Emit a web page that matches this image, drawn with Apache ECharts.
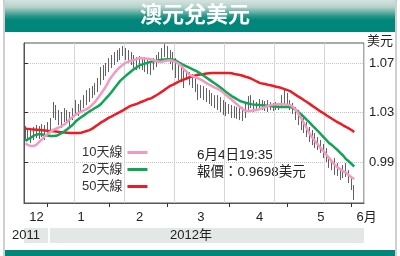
<!DOCTYPE html>
<html><head><meta charset="utf-8">
<script src="https://cdn.jsdelivr.net/npm/echarts@6/dist/echarts.min.js"></script>
<style>html,body{margin:0;padding:0;background:#fff}#c{width:400px;height:256px}</style>
</head><body><div id="c"></div>
<script>
const FONT = "'Liberation Sans','Noto Sans CJK TC',sans-serif";
const titleText = '澳元兌美元';
const unitText = '美元';
const seriesNames = ['10天線', '20天線', '50天線'];
const quoteTime = '6月4日19:35';
const quotePrice = 0.9698;
const yearLabels = ['2011', '2012年'];
const monthLabels = ['12', '1', '2', '3', '4', '5', '6月'];
const yTicks = [0.99, 1.03, 1.07];

// trading days: December 2011 days, then weekdays 2012-01-02 .. 2012-06-04
const decDays = ['2011-12-20','2011-12-21','2011-12-22','2011-12-23','2011-12-27','2011-12-28','2011-12-29','2011-12-30'];

const opens = [
1.0150,1.0134,1.0123,1.0107,1.0131,1.0147,1.0139,1.0155,1.0139,1.0167,
1.0256,1.0321,1.0300,1.0260,1.0240,1.0280,1.0264,1.0244,1.0288,1.0341,
1.0321,1.0349,1.0389,1.0422,1.0442,1.0466,1.0490,1.0522,1.0595,1.0624,
1.0648,1.0684,1.0713,1.0737,1.0757,1.0773,1.0797,1.0773,1.0753,1.0737,
1.0713,1.0696,1.0704,1.0692,1.0688,1.0668,1.0656,1.0692,1.0717,1.0745,
1.0773,1.0801,1.0781,1.0749,1.0716,1.0660,1.0636,1.0611,1.0579,1.0603,
1.0575,1.0555,1.0523,1.0466,1.0470,1.0458,1.0442,1.0426,1.0406,1.0389,
1.0381,1.0365,1.0341,1.0329,1.0329,1.0309,1.0305,1.0297,1.0288,1.0288,
1.0320,1.0377,1.0389,1.0353,1.0349,1.0369,1.0361,1.0353,1.0353,1.0353,
1.0345,1.0353,1.0349,1.0389,1.0422,1.0401,1.0361,1.0333,1.0292,1.0260,
1.0228,1.0195,1.0163,1.0123,1.0098,1.0074,1.0050,1.0026,0.9989,0.9949,
0.9901,0.9876,0.9864,0.9840,0.9804,0.9824,0.9835,0.9779,0.9723];
const closes = [
1.0134,1.0123,1.0107,1.0131,1.0147,1.0139,1.0155,1.0139,1.0167,1.0200,
1.0321,1.0300,1.0260,1.0240,1.0280,1.0264,1.0244,1.0288,1.0341,1.0321,
1.0349,1.0389,1.0422,1.0442,1.0466,1.0490,1.0523,1.0595,1.0624,1.0648,
1.0684,1.0713,1.0737,1.0757,1.0773,1.0797,1.0773,1.0753,1.0737,1.0713,
1.0696,1.0704,1.0692,1.0688,1.0668,1.0656,1.0692,1.0717,1.0745,1.0773,
1.0801,1.0781,1.0749,1.0716,1.0660,1.0636,1.0611,1.0579,1.0603,1.0575,
1.0555,1.0523,1.0466,1.0470,1.0458,1.0442,1.0426,1.0406,1.0389,1.0381,
1.0365,1.0341,1.0329,1.0329,1.0309,1.0305,1.0297,1.0288,1.0288,1.0313,
1.0377,1.0389,1.0353,1.0349,1.0369,1.0361,1.0353,1.0353,1.0353,1.0345,
1.0353,1.0349,1.0389,1.0422,1.0406,1.0361,1.0333,1.0292,1.0260,1.0228,
1.0195,1.0163,1.0123,1.0098,1.0074,1.0050,1.0026,0.9989,0.9957,0.9901,
0.9876,0.9864,0.9840,0.9804,0.9824,0.9836,0.9783,0.9723,0.9698];
const lows = [
1.0078,1.0070,1.0054,1.0078,1.0094,1.0086,1.0102,1.0078,1.0110,1.0143,
1.0256,1.0239,1.0199,1.0175,1.0223,1.0207,1.0183,1.0239,1.0280,1.0272,
1.0296,1.0336,1.0361,1.0385,1.0417,1.0441,1.0466,1.0522,1.0563,1.0595,
1.0627,1.0660,1.0684,1.0708,1.0724,1.0757,1.0724,1.0700,1.0684,1.0660,
1.0643,1.0651,1.0643,1.0627,1.0611,1.0603,1.0643,1.0668,1.0700,1.0724,
1.0748,1.0724,1.0692,1.0643,1.0579,1.0563,1.0546,1.0498,1.0563,1.0522,
1.0498,1.0466,1.0401,1.0417,1.0401,1.0385,1.0369,1.0353,1.0336,1.0320,
1.0304,1.0280,1.0272,1.0288,1.0256,1.0256,1.0248,1.0239,1.0231,1.0256,
1.0320,1.0336,1.0304,1.0312,1.0328,1.0320,1.0312,1.0304,1.0320,1.0312,
1.0320,1.0320,1.0336,1.0361,1.0353,1.0320,1.0288,1.0239,1.0199,1.0159,
1.0134,1.0102,1.0062,1.0037,1.0013,0.9997,0.9973,0.9932,0.9900,0.9852,
0.9835,0.9795,0.9787,0.9755,0.9771,0.9779,0.9730,0.9674,0.9593];
const highs = [
1.0191,1.0175,1.0159,1.0183,1.0199,1.0191,1.0207,1.0199,1.0223,1.0256,
1.0385,1.0361,1.0320,1.0304,1.0336,1.0320,1.0304,1.0336,1.0401,1.0369,
1.0401,1.0441,1.0482,1.0498,1.0514,1.0538,1.0579,1.0668,1.0684,1.0700,
1.0740,1.0765,1.0789,1.0805,1.0821,1.0837,1.0821,1.0805,1.0789,1.0765,
1.0748,1.0757,1.0740,1.0748,1.0724,1.0708,1.0740,1.0765,1.0789,1.0821,
1.0853,1.0837,1.0805,1.0789,1.0740,1.0708,1.0676,1.0660,1.0643,1.0627,
1.0611,1.0579,1.0530,1.0522,1.0514,1.0498,1.0482,1.0458,1.0441,1.0441,
1.0425,1.0401,1.0385,1.0369,1.0361,1.0353,1.0345,1.0336,1.0345,1.0369,
1.0433,1.0441,1.0401,1.0385,1.0409,1.0401,1.0393,1.0401,1.0385,1.0377,
1.0385,1.0377,1.0441,1.0482,1.0458,1.0401,1.0377,1.0345,1.0320,1.0296,
1.0256,1.0223,1.0183,1.0159,1.0134,1.0102,1.0078,1.0046,1.0013,0.9949,
0.9916,0.9932,0.9892,0.9852,0.9876,0.9892,0.9835,0.9779,0.9714];

const ma10 = [
1.0051,1.0037,1.0029,1.0029,1.0041,1.0064,1.0086,1.0109,1.0128,1.0145,
1.0160,1.0170,1.0179,1.0191,1.0204,1.0225,1.0248,1.0265,1.0283,1.0296,
1.0307,1.0317,1.0328,1.0342,1.0363,1.0386,1.0418,1.0448,1.0480,1.0516,
1.0558,1.0591,1.0622,1.0647,1.0669,1.0686,1.0702,1.0712,1.0719,1.0726,
1.0733,1.0740,1.0738,1.0736,1.0734,1.0731,1.0723,1.0716,1.0710,1.0711,
1.0716,1.0720,1.0722,1.0716,1.0708,1.0692,1.0676,1.0648,1.0626,1.0604,
1.0595,1.0585,1.0576,1.0566,1.0552,1.0538,1.0525,1.0514,1.0502,1.0491,
1.0479,1.0461,1.0442,1.0424,1.0405,1.0385,1.0365,1.0344,1.0327,1.0312,
1.0312,1.0314,1.0319,1.0323,1.0327,1.0336,1.0344,1.0354,1.0361,1.0364,
1.0366,1.0368,1.0367,1.0365,1.0363,1.0360,1.0346,1.0323,1.0290,1.0253,
1.0212,1.0172,1.0130,1.0096,1.0067,1.0040,1.0012,0.9987,0.9959,0.9932,
0.9905,0.9877,0.9857,0.9842,0.9827,0.9814,0.9795,0.9777,0.9763];
const ma20 = [
1.0070,1.0086,1.0098,1.0113,1.0121,1.0126,1.0123,1.0118,1.0114,1.0110,
1.0110,1.0112,1.0122,1.0134,1.0148,1.0165,1.0183,1.0201,1.0227,1.0245,
1.0262,1.0277,1.0294,1.0309,1.0323,1.0337,1.0350,1.0366,1.0391,1.0416,
1.0441,1.0468,1.0498,1.0527,1.0556,1.0576,1.0596,1.0616,1.0634,1.0651,
1.0666,1.0682,1.0689,1.0697,1.0703,1.0710,1.0714,1.0718,1.0723,1.0726,
1.0728,1.0730,1.0731,1.0727,1.0720,1.0706,1.0693,1.0682,1.0671,1.0660,
1.0649,1.0638,1.0626,1.0613,1.0597,1.0582,1.0566,1.0550,1.0535,1.0519,
1.0503,1.0485,1.0466,1.0449,1.0433,1.0420,1.0407,1.0393,1.0386,1.0379,
1.0373,1.0368,1.0365,1.0363,1.0361,1.0359,1.0357,1.0354,1.0352,1.0349,
1.0348,1.0345,1.0344,1.0344,1.0344,1.0344,1.0338,1.0323,1.0302,1.0285,
1.0263,1.0240,1.0218,1.0195,1.0172,1.0149,1.0126,1.0102,1.0078,1.0053,
1.0037,1.0017,0.9997,0.9974,0.9953,0.9925,0.9906,0.9886,0.9864];
const ma50 = [
1.0170,1.0168,1.0165,1.0163,1.0161,1.0159,1.0157,1.0155,1.0152,1.0150,
1.0148,1.0146,1.0143,1.0141,1.0139,1.0137,1.0134,1.0134,1.0134,1.0134,
1.0137,1.0144,1.0151,1.0158,1.0170,1.0186,1.0201,1.0218,1.0231,1.0245,
1.0259,1.0269,1.0282,1.0294,1.0305,1.0318,1.0332,1.0345,1.0356,1.0363,
1.0370,1.0381,1.0389,1.0398,1.0409,1.0413,1.0427,1.0440,1.0454,1.0469,
1.0485,1.0500,1.0516,1.0526,1.0538,1.0549,1.0559,1.0568,1.0577,1.0586,
1.0593,1.0599,1.0605,1.0608,1.0611,1.0615,1.0618,1.0619,1.0619,1.0619,
1.0619,1.0619,1.0619,1.0619,1.0617,1.0612,1.0608,1.0603,1.0597,1.0589,
1.0583,1.0574,1.0563,1.0551,1.0540,1.0534,1.0530,1.0525,1.0521,1.0515,
1.0509,1.0504,1.0497,1.0489,1.0481,1.0473,1.0458,1.0443,1.0428,1.0415,
1.0399,1.0385,1.0370,1.0354,1.0339,1.0323,1.0307,1.0294,1.0278,1.0264,
1.0250,1.0236,1.0222,1.0210,1.0197,1.0185,1.0172,1.0159,1.0142];

// ---- build categories ----
const days = decDays.slice();
(function () {
  const d = new Date(Date.UTC(2012, 0, 2));
  const end = Date.UTC(2012, 5, 4);
  while (d.getTime() <= end) {
    const wd = d.getUTCDay();
    if (wd !== 0 && wd !== 6) days.push(d.toISOString().slice(0, 10));
    d.setUTCDate(d.getUTCDate() + 1);
  }
})();
const categories = days.concat(['pad1', 'pad2', 'pad3']);
const monthStart = new Set();
for (let i = 1; i < days.length; i++) {
  if (days[i].slice(5, 7) !== days[i - 1].slice(5, 7)) monthStart.add(i);
}
const labelIdx = [4, 20, 41, 63, 84, 106, 121];
const labelMap = {};
labelIdx.forEach((k, n) => labelMap[k] = monthLabels[n]);

const candle = opens.map((o, i) => [o, closes[i], lows[i], highs[i]]);

const vGrid = [];
for (let v = 5; v <= 335; v += 16) vGrid.push(v);
const hGrid = [];
for (let k = 0; k <= 25; k++) hGrid.push(+(0.96 + k * 0.005).toFixed(3));

const colors = ['#f39ac0', '#10a455', '#ec1c24'];

const chart = echarts.init(document.getElementById('c'), null, { renderer: 'canvas' });
chart.setOption({
  animation: false,
  backgroundColor: '#ffffff',
  title: {
    text: titleText, left: 140, top: 3, padding: 0,
    textStyle: { color: '#ffffff', fontSize: 22, fontWeight: 'bold', fontFamily: "'Noto Sans CJK TC',sans-serif" }
  },
  legend: {
    data: seriesNames, orient: 'vertical', left: 82, top: 146, align: 'right',
    icon: 'rect', itemWidth: 20, itemHeight: 3, itemGap: 4, padding: 0, selectedMode: false,
    textStyle: { fontSize: 13, color: '#333', fontFamily: FONT }
  },
  grid: { left: 24, top: 43, right: 36, bottom: 53, show: true, borderColor: '#555', borderWidth: 1 },
  xAxis: [{
    type: 'category', data: categories, boundaryGap: true,
    axisLine: { show: true, lineStyle: { color: '#555' } },
    axisTick: { show: true, alignWithLabel: true, length: 4, interval: (i) => monthStart.has(i), lineStyle: { color: '#333' } },
    axisLabel: {
      interval: (i) => labelMap[i] !== undefined, margin: 8, fontSize: 13, color: '#222', fontFamily: FONT,
      formatter: (v, i) => i === 121 ? '{m|' + labelMap[i] + '}' : (labelMap[i] || ''),
      rich: { m: { fontSize: 13, color: '#222', fontFamily: FONT, padding: [0, 0, 0, 8] } }
    },
    splitLine: { show: false }
  }, {
    type: 'value', min: 0, max: 340, position: 'top',
    axisLine: { show: false }, axisTick: { show: false }, axisLabel: { show: false },
    splitLine: { show: true, customValues: vGrid, lineStyle: { color: '#d6d6d6', width: 1 } }
  }],
  yAxis: [{
    type: 'value', position: 'right', min: 0.9569, max: 1.0862,
    axisLine: { show: true, lineStyle: { color: '#555' } },
    axisTick: { show: true, customValues: yTicks, length: 4, lineStyle: { color: '#333' } },
    axisLabel: { customValues: yTicks, formatter: (v) => v.toFixed(2), fontSize: 13, color: '#222', fontFamily: FONT, margin: 5 },
    splitLine: { show: true, customValues: hGrid, lineStyle: { type: 'dotted', color: '#c4c4c4', width: 1 } }
  }],
  series: [{
    type: 'candlestick', data: candle, barWidth: 0.6, silent: true,
    itemStyle: { color: '#4f4f4f', color0: '#4f4f4f', borderColor: '#4f4f4f', borderColor0: '#4f4f4f', borderWidth: 0.9 }
  }, {
    type: 'line', name: seriesNames[2], data: ma50, symbol: 'none', silent: true,
    lineStyle: { width: 2.5, color: colors[2] }, itemStyle: { color: colors[2] }
  }, {
    type: 'line', name: seriesNames[1], data: ma20, symbol: 'none', silent: true,
    lineStyle: { width: 2.5, color: colors[1] }, itemStyle: { color: colors[1] }
  }, {
    type: 'line', name: seriesNames[0], data: ma10, symbol: 'none', silent: true,
    lineStyle: { width: 2.5, color: colors[0] }, itemStyle: { color: colors[0] }
  }],
  graphic: [
    { type: 'rect', z: -10, shape: { x: 3, y: 0, width: 2, height: 256 }, style: { fill: '#cfcfcf' } },
    { type: 'rect', z: -10, shape: { x: 395, y: 0, width: 2, height: 256 }, style: { fill: '#cfcfcf' } },
    { type: 'rect', z: -10, shape: { x: 5, y: 0, width: 390, height: 32 },
      style: { fill: { type: 'linear', x: 0, y: 0, x2: 0, y2: 1, colorStops: [
        { offset: 0, color: '#d6e3e0' }, { offset: 0.22, color: '#b4d2cb' },
        { offset: 0.5, color: '#2a9788' }, { offset: 0.62, color: '#00877a' }, { offset: 1, color: '#00857a' }] } } },
    { type: 'rect', z: -10, shape: { x: 5, y: 250, width: 390, height: 6 }, style: { fill: '#00877a' } },
    { type: 'rect', z: -10, shape: { x: 24, y: 228, width: 340, height: 15 }, style: { fill: '#e3e8e7' } },
    { type: 'rect', z: -9, shape: { x: 48, y: 228, width: 2, height: 15 }, style: { fill: '#ffffff' } },
    { type: 'text', left: 367, top: 35, style: { text: unitText, fill: '#222', font: "13px 'Liberation Sans','Noto Sans CJK TC',sans-serif" } },
    { type: 'text', left: 12, top: 229, style: { text: yearLabels[0], fill: '#222', font: "13px 'Liberation Sans','Noto Sans CJK TC',sans-serif" } },
    { type: 'text', left: 170, top: 229, style: { text: yearLabels[1], fill: '#222', font: "13px 'Liberation Sans','Noto Sans CJK TC',sans-serif" } },
    { type: 'text', left: 197, top: 147, style: {
      text: quoteTime + '\n報價：' + quotePrice.toFixed(4) + unitText, lineHeight: 17, fill: '#222',
      font: "13.5px 'Liberation Sans','Noto Sans CJK TC',sans-serif" } }
  ]
});
</script>
</body></html>
